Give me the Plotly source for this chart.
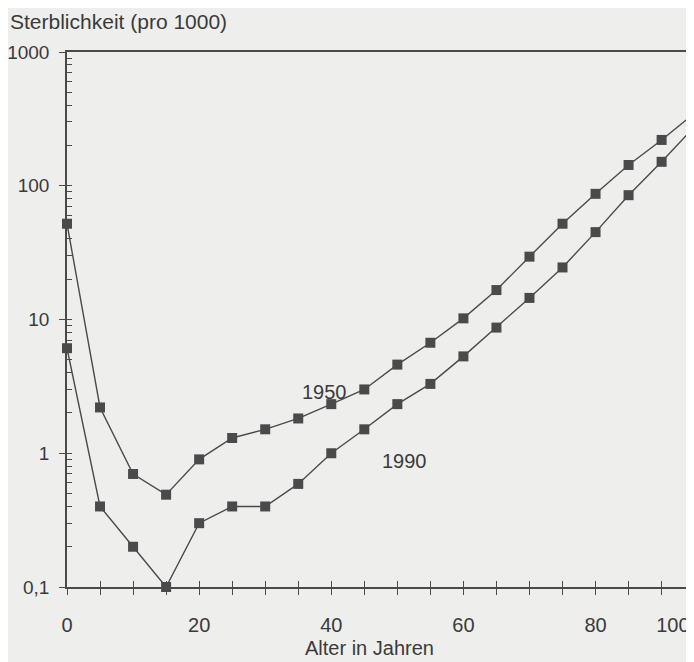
import plotly.graph_objects as go

ages = [0, 5, 10, 15, 20, 25, 30, 35, 40, 45, 50, 55, 60, 65, 70, 75, 80, 85, 90, 95]
mort_1950 = [52, 2.2, 0.70, 0.49, 0.90, 1.30, 1.51, 1.82, 2.33, 3.0, 4.6, 6.7,
             10.2, 16.6, 29.5, 52, 87, 143, 220, 350]
mort_1990 = [6.1, 0.40, 0.20, 0.10, 0.30, 0.40, 0.40, 0.59, 1.0, 1.51, 2.33, 3.3,
             5.3, 8.7, 14.5, 24.5, 45, 85, 151, 277]

y_major = [0.1, 1, 10, 100, 1000]
y_major_text = ["0,1", "1", "10", "100", "1000"]
y_all = [m * 10 ** e for e in range(-1, 3) for m in range(1, 10)] + [1000]
x_ticks = list(range(0, 95, 5))
x_label_pos = [0, 20, 40, 60, 80, 91.7]
x_label_text = ["0", "20", "40", "60", "80", "100"]

ink = "#4a4a4a"
txt = "#3a3a3a"
bg = "#eeeeec"
font = "Liberation Sans, Arial, sans-serif"
xr = [0, 94.6]
yr = [-1, 3]

W, H = 686, 654
L, R, T, B = 59, 2, 44, 75
PW, PH = W - L - R, H - T - B

fig = go.Figure()
for name, vals in [("1950", mort_1950), ("1990", mort_1990)]:
    fig.add_trace(go.Scatter(
        x=ages, y=vals, mode="lines+markers", name=name,
        line=dict(color=ink, width=1.4),
        marker=dict(symbol="square", size=10, color=ink),
        cliponaxis=False, showlegend=False, xaxis="x", yaxis="y"))

# empty traces so overlay axes render
fig.add_trace(go.Scatter(x=[None], y=[None], xaxis="x2", yaxis="y2", showlegend=False))
fig.add_trace(go.Scatter(x=[None], y=[None], xaxis="x3", yaxis="y3", showlegend=False))

fig.update_layout(
    width=W, height=H,
    margin=dict(l=L, r=R, t=T, b=B),
    paper_bgcolor=bg, plot_bgcolor=bg,
    font=dict(family=font, size=20, color=txt),
    xaxis=dict(range=xr, showgrid=False, zeroline=False, showline=True,
               linecolor=ink, linewidth=1.5, mirror=True, automargin=False,
               tickvals=x_ticks, ticks="outside", ticklen=6, tickcolor=ink,
               tickwidth=1, showticklabels=False),
    yaxis=dict(type="log", range=yr, showgrid=False, zeroline=False, showline=True,
               linecolor=ink, linewidth=1.5, mirror=True, automargin=False,
               tickvals=y_major, ticktext=y_major_text, ticks="outside",
               ticklen=6, tickcolor=ink, tickwidth=1,
               tickfont=dict(size=19, color=txt), ticklabelstandoff=6),
    xaxis2=dict(range=xr, overlaying="x", anchor="y2", showgrid=False, zeroline=False,
                automargin=False,
                tickvals=x_ticks, ticks="inside", ticklen=6, tickcolor=ink,
                tickwidth=1, showticklabels=False),
    yaxis2=dict(type="log", range=yr, overlaying="y", anchor="x2", showgrid=False,
                zeroline=False, automargin=False, tickvals=y_all, ticks="inside",
                ticklen=5, tickcolor=ink, tickwidth=1, showticklabels=False),
    xaxis3=dict(range=xr, overlaying="x", anchor="y3", showgrid=False, zeroline=False,
                automargin=False,
                tickvals=x_label_pos, ticktext=x_label_text, ticks="",
                tickfont=dict(size=20, color=txt), ticklabelstandoff=24),
    yaxis3=dict(type="log", range=yr, overlaying="y", anchor="x3", showgrid=False,
                zeroline=False, automargin=False, showticklabels=False, ticks=""),
    annotations=[
        dict(text="Sterblichkeit (pro 1000)", xref="paper", yref="paper",
             x=(0 - L) / PW, y=1 + T / PH, xanchor="left", yanchor="top",
             showarrow=False, font=dict(size=21, color=txt)),
        dict(text="Alter in Jahren", xref="paper", yref="paper",
             x=(361 - L) / PW, y=-(640 - (H - B)) / PH, xanchor="center",
             yanchor="middle", showarrow=False, font=dict(size=20, color=txt)),
        dict(text="1950", x=38.9, y=0.457, xref="x", yref="y",
             showarrow=False, font=dict(size=20, color=txt)),
        dict(text="1990", x=51.1, y=-0.06, xref="x", yref="y",
             showarrow=False, font=dict(size=20, color=txt)),
    ],
)

fig.write_html("out.html")
